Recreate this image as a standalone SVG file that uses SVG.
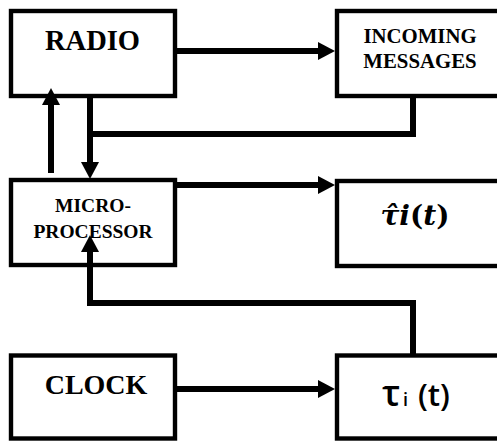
<svg xmlns="http://www.w3.org/2000/svg" width="497" height="441" viewBox="0 0 497 441">
<style>
.box{fill:#fff;stroke:#000;stroke-width:4.4}
.ln{fill:none;stroke:#000;stroke-width:6;stroke-linejoin:miter}
.tb{font-family:"Liberation Serif","Times New Roman",serif;font-weight:bold;fill:#000;text-anchor:middle}
</style>
<defs>
<marker id="ah" viewBox="0 0 17 18" markerWidth="17" markerHeight="18" markerUnits="userSpaceOnUse" refX="0" refY="9" orient="auto">
<path d="M0,0 L17,9 L0,18 Z" fill="#000"/>
</marker>
</defs>
<rect width="497" height="441" fill="#fff"/>
<g id="radio">
<rect class="box" x="11" y="11" width="164" height="85"/>
<text class="tb" x="92.5" y="50" font-size="28.5">RADIO</text>
</g>
<g id="incoming">
<rect class="box" x="337" y="11" width="170" height="85"/>
<text class="tb" x="420" y="42.5" font-size="20.8">INCOMING</text>
<text class="tb" x="420" y="67.5" font-size="20.8">MESSAGES</text>
</g>
<g id="micro">
<rect class="box" x="11" y="180" width="164" height="85"/>
<text class="tb" x="93" y="212" font-size="19.5">MICRO-</text>
<text class="tb" x="93" y="237.5" font-size="19.5">PROCESSOR</text>
</g>
<g id="tauhat">
<rect class="box" x="337" y="181" width="170" height="85"/>
<text x="415" y="225" text-anchor="middle" font-family="DejaVu Serif, serif" font-weight="bold" font-size="28" fill="#000"><tspan font-style="italic">τ̂i</tspan>(<tspan font-style="italic">t</tspan>)</text>
</g>
<g id="clock">
<rect class="box" x="11" y="355.5" width="164" height="83"/>
<text class="tb" x="96" y="393.5" font-size="28">CLOCK</text>
</g>
<g id="tau">
<rect class="box" x="337" y="355.5" width="170" height="83"/>
<text y="406" font-family="Open Sans, Noto Sans, sans-serif" font-weight="600" fill="#000"><tspan x="382" font-size="36">τ</tspan><tspan x="403" font-size="18">i</tspan><tspan x="418" font-size="31">(t)</tspan></text>
</g>
<g id="connectors">
<path class="ln" d="M175,51 H318" marker-end="url(#ah)"/>
<path class="ln" d="M413,96 V134 H87"/>
<path class="ln" d="M90,96 V162" marker-end="url(#ah)"/>
<path class="ln" d="M51,173 V105" marker-end="url(#ah)"/>
<path class="ln" d="M175,185 H318" marker-end="url(#ah)"/>
<path class="ln" d="M413,355 V303 H90 V252" marker-end="url(#ah)"/>
<path class="ln" d="M175,389 H318" marker-end="url(#ah)"/>
</g>
</svg>
